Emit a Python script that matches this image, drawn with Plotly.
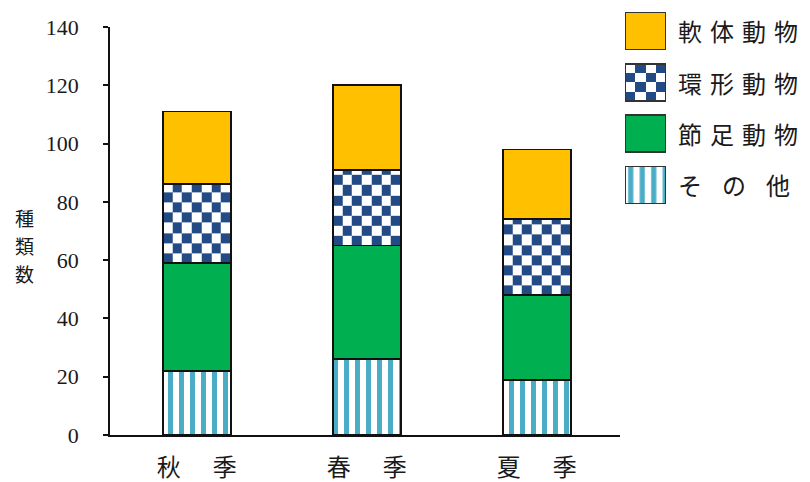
import plotly.graph_objects as go

# Species counts per season (stacked from the bottom up)
seasons = ["秋\u3000\u2004季", "春\u3000\u2004季", "夏\u3000\u2004季"]
sonota = [22, 26, 19]        # その他
setsusoku = [37, 39, 29]     # 節足動物
kankei = [27, 26, 26]        # 環形動物
nantai = [25, 29, 24]        # 軟体動物
y_ticks = [0, 20, 40, 60, 80, 100, 120, 140]

legend_labels = ["軟\u2004体\u2004動\u2004物", "環\u2004形\u2004動\u2004物",
                 "節\u2004足\u2004動\u2004物", "そ\u2004\u2002の\u2004\u2002他"]

W, H = 810, 482
ORANGE = "#FFC000"
GREEN = "#00B050"
NAVY = "#224A84"
STRIPE = "#4BACC6"
EDGE = "#111111"
BAR_W = 0.4
JP = "Noto Sans CJK JP"
SERIF = "Liberation Serif"

xs = list(range(len(seasons)))
fig = go.Figure()


def checker(x0, x1, y0, y1, ncols, cell_h, xa="x", ya="y", start=0):
    """Checkerboard texture as a heatmap filling the box [x0,x1]x[y0,y1]."""
    xe = [x0 + (x1 - x0) * i / ncols for i in range(ncols + 1)]
    ye = [y0]
    while ye[-1] + cell_h < y1 - 1e-9:
        ye.append(ye[-1] + cell_h)
    ye.append(y1)
    z = [[(r + c + start) % 2 for c in range(ncols)] for r in range(len(ye) - 1)]
    fig.add_trace(go.Heatmap(
        x=xe, y=ye, z=z, zmin=0, zmax=1, showscale=False, hoverinfo="skip",
        colorscale=[[0, "white"], [1, NAVY]], xaxis=xa, yaxis=ya))


# checker texture under the 環形動物 segment of each bar
for i in xs:
    base = sonota[i] + setsusoku[i]
    checker(i - BAR_W / 2, i + BAR_W / 2, base, base + kankei[i], 7, 3.45, start=1)

line = dict(color=EDGE, width=1.8)
fig.add_trace(go.Bar(x=xs, y=sonota, width=BAR_W, name="その他",
                     marker=dict(color="white", line=line,
                                 pattern=dict(shape="|", fgcolor=STRIPE, bgcolor="white",
                                              size=11, solidity=0.45, fillmode="replace"))))
fig.add_trace(go.Bar(x=xs, y=setsusoku, width=BAR_W, name="節足動物",
                     marker=dict(color=GREEN, line=line)))
fig.add_trace(go.Bar(x=xs, y=kankei, width=BAR_W, name="環形動物",
                     marker=dict(color="rgba(0,0,0,0)", line=line)))
fig.add_trace(go.Bar(x=xs, y=nantai, width=BAR_W, name="軟体動物",
                     marker=dict(color=ORANGE, line=line)))

# legend swatches on their own small axes
box0, box1 = 0.14, 0.86
checker(-0.5, 0.5, 1 + box0, 1 + box1, 4, (box1 - box0) / 4, xa="x2", ya="y2")
sw_line = dict(color="#333333", width=1.5)
swatches = [
    dict(color=ORANGE, line=sw_line),
    dict(color="rgba(0,0,0,0)", line=sw_line),
    dict(color=GREEN, line=sw_line),
    dict(color="white", line=sw_line,
         pattern=dict(shape="|", fgcolor=STRIPE, bgcolor="white", size=11.5,
                      solidity=0.45, fillmode="replace")),
]
for k, m in enumerate(swatches):
    fig.add_trace(go.Bar(x=[0], y=[box1 - box0], base=[k + box0], width=1,
                         marker=m, xaxis="x2", yaxis="y2", hoverinfo="skip"))

for k, lab in enumerate(legend_labels):
    cy = 5.35 + (k + 0.5) * 51.3
    fig.add_annotation(text=lab, xref="paper", yref="paper", x=676 / W, y=1 - cy / H,
                       xanchor="left", yanchor="middle", showarrow=False,
                       font=dict(family=JP, size=24, color="#1a1a1a"))

# vertical axis title, one character per row
for ch, cy in zip("種類数", [218, 245.5, 273]):
    fig.add_annotation(text=ch, xref="paper", yref="paper", x=24.5 / W, y=1 - cy / H,
                       xanchor="center", yanchor="middle", showarrow=False,
                       font=dict(family=JP, size=19, color="#1a1a1a"))

fig.update_layout(
    width=W, height=H, autosize=False,
    margin=dict(l=0, r=0, t=0, b=0),
    paper_bgcolor="white", plot_bgcolor="white",
    barmode="stack", showlegend=False,
    xaxis=dict(domain=[110 / W, 620 / W], range=[-0.51, 2.49], automargin=False,
               tickvals=xs, ticktext=seasons, ticks="", showgrid=False, zeroline=False,
               showline=True, linecolor=EDGE, linewidth=1.6, ticklabelstandoff=10,
               tickfont=dict(family=JP, size=24, color="#1a1a1a")),
    yaxis=dict(domain=[(H - 435) / H, (H - 27) / H], range=[0, 140], automargin=False,
               tickvals=y_ticks, ticks="outside", ticklen=5, tickwidth=1.6,
               tickcolor=EDGE, showgrid=False, zeroline=False,
               showline=True, linecolor=EDGE, linewidth=1.6, ticklabelstandoff=20,
               tickfont=dict(family=SERIF, size=22, color="#1a1a1a")),
    xaxis2=dict(domain=[625 / W, 666 / W], range=[-0.5, 0.5], visible=False,
                anchor="y2", fixedrange=True),
    yaxis2=dict(domain=[(H - 210.65) / H, (H - 5.35) / H], range=[4, 0], visible=False,
                anchor="x2", fixedrange=True),
)

fig.write_html("out.html")
